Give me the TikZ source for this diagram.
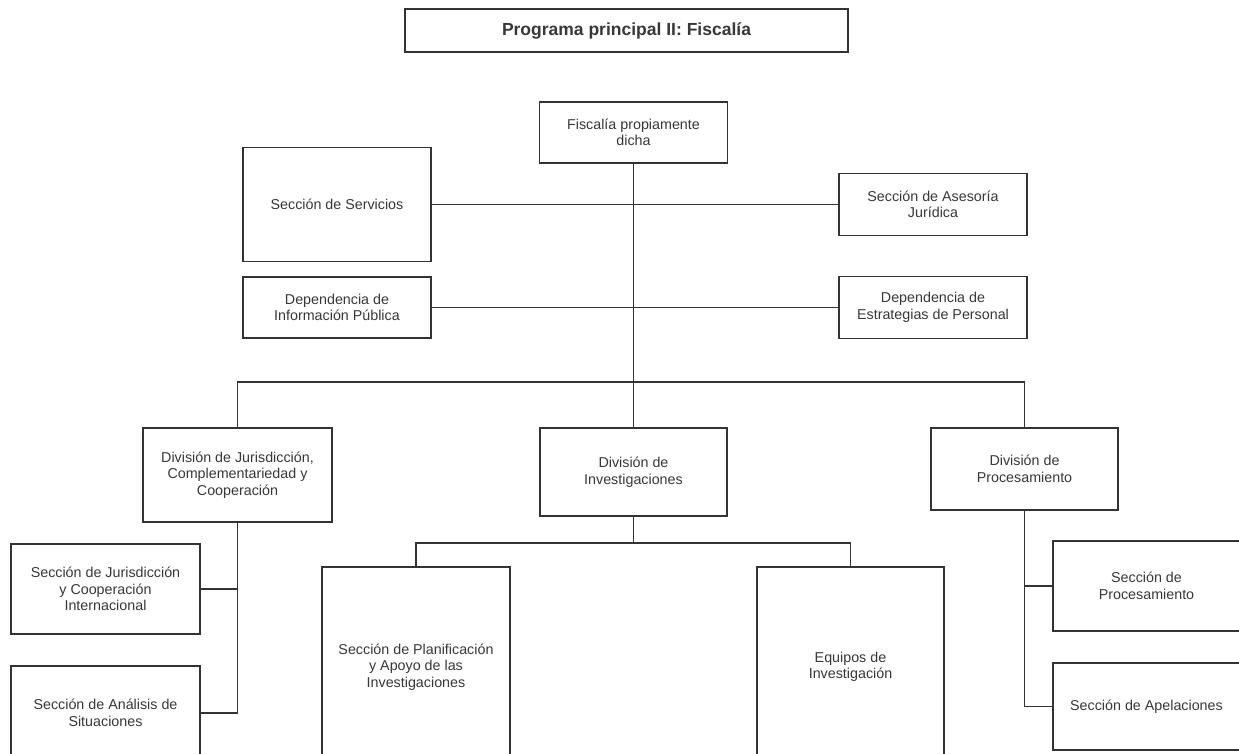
\documentclass[tikz,border=0pt]{standalone}
\usepackage{fontspec}
\setmainfont{Liberation Sans}
\definecolor{ln}{HTML}{333333}
\definecolor{tx}{HTML}{383838}
\tikzset{
  box/.style={draw=ln, line width=1.5pt, rectangle, inner sep=0pt, align=center,
    text=tx, font=\fontsize{14.3}{16.5}\selectfont},
  titlebox/.style={box, line width=2pt, font=\fontsize{17.5}{20}\selectfont\bfseries},
  conn/.style={draw=ln, line width=1.5pt}
}
\begin{document}
\begin{tikzpicture}[x=1pt,y=-1pt]
\useasboundingbox (0,0) rectangle (1239,753);
\clip (0,0) rectangle (1239,753);
\fill[white] (0,0) rectangle (1239,753);

\node[titlebox, minimum width=443pt, minimum height=43pt] (title) at (626.5,30.5) {Programa principal II: Fiscalía};

\node[box, minimum width=188pt, minimum height=61pt] (fisc) at (633.5,132.5) {Fiscalía propiamente\\dicha};
\node[box, minimum width=188pt, minimum height=114pt] (serv) at (337,204.5) {Sección de Servicios};
\node[box, minimum width=188pt, minimum height=62pt] (ases) at (933,204.5) {Sección de Asesoría\\Jurídica};
\node[box, minimum width=188pt, minimum height=61pt] (info) at (337,307.5) {Dependencia de\\Información Pública};
\node[box, minimum width=188pt, minimum height=62pt] (estr) at (933,307.5) {Dependencia de\\Estrategias de Personal};

\node[box, minimum width=189pt, minimum height=94pt] (divjur) at (237.5,475) {División de Jurisdicción,\\Complementariedad y\\Cooperación};
\node[box, minimum width=187pt, minimum height=88pt] (divinv) at (633.5,472) {División de\\Investigaciones};
\node[box, minimum width=187pt, minimum height=82pt] (divpro) at (1024.5,469) {División de\\Procesamiento};

\node[box, minimum width=189pt, minimum height=90pt] (secjur) at (105.5,589) {Sección de Jurisdicción\\y Cooperación\\Internacional};
\node[box, minimum width=189pt, minimum height=94pt] (secana) at (105.5,713) {Sección de Análisis de\\Situaciones};

\node[box, minimum width=188pt, minimum height=200pt] (plan) at (416,667) {Sección de Planificación\\y Apoyo de las\\Investigaciones};
\node[box, minimum width=187pt, minimum height=200pt] (equi) at (850.5,667) {Equipos de\\Investigación};

\node[box, minimum width=187pt, minimum height=90pt] (secpro) at (1146.5,586) {Sección de\\Procesamiento};
\node[box, minimum width=187pt, minimum height=87pt] (apel) at (1146.5,706.5) {Sección de Apelaciones};

% coordinates
\coordinate (busy) at (0,382);
\coordinate (invbus) at (633.5,543);
\coordinate (jurend) at (237.5,713);
\coordinate (proend) at (1024.5,706.5);

% connectors
\draw[conn] (fisc.south) -- (divinv.north);
\draw[conn] (serv.east) -- (ases.west);
\draw[conn] (info.east) -- (estr.west);
\draw[conn] (divjur.north) |- (divpro.north |- busy) -- (divpro.north);

\draw[conn] (divinv.south) -- (invbus);
\draw[conn] (plan.north) |- (invbus) -| (equi.north);

\draw[conn] (divjur.south) -- (jurend);
\draw[conn] (secjur.east) -- (secjur.east -| jurend);
\draw[conn] (secana.east) -- (jurend);

\draw[conn] (divpro.south) -- (proend);
\draw[conn] (secpro.west) -- (secpro.west -| proend);
\draw[conn] (apel.west) -- (proend);
\end{tikzpicture}
\end{document}
